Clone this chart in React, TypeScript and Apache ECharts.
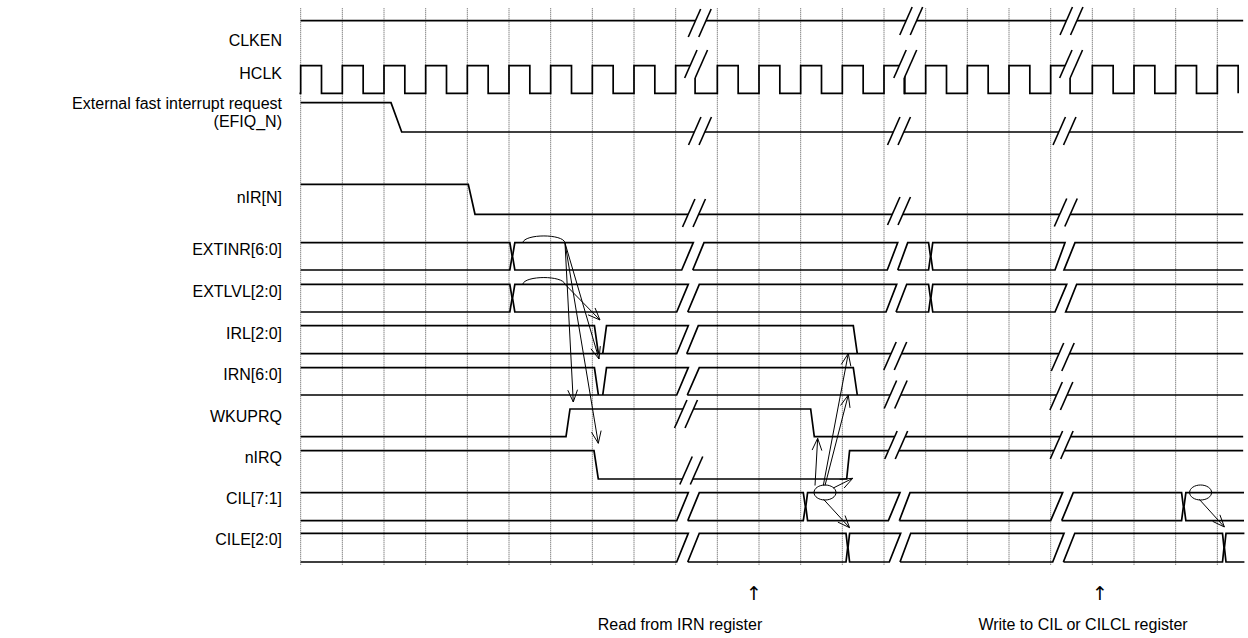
import React, { useEffect, useRef } from "react";
import * as echarts from "echarts";

// ---------------- axis (time in HCLK periods, t = 0 at first dotted line) ----------------
const T_MIN = -7.216;
const T_MAX = 22.736;
const Y_MAX = 638;
const gridTicks = [0, 1, 2, 3, 4, 5, 6, 7, 8, 9, 10, 11, 12, 13, 14, 15, 16, 17, 18, 19, 20, 21, 22];
const gridSpan = [8.3, 565];

// ---------------- lanes (layout: y of high / low level) ----------------
const lanes: Record<string, { hi: number; lo: number }> = {
  CLKEN: { hi: 20.7, lo: 48 },
  HCLK: { hi: 65.7, lo: 93.3 },
  EFIQ: { hi: 102.7, lo: 132 },
  NIR: { hi: 184.3, lo: 214.3 },
  EXTINR: { hi: 242.7, lo: 270 },
  EXTLVL: { hi: 284.3, lo: 312 },
  IRL: { hi: 325.7, lo: 353.7 },
  IRN: { hi: 367.7, lo: 395 },
  WKUPRQ: { hi: 409, lo: 436.7 },
  NIRQ: { hi: 450.7, lo: 479 },
  CIL: { hi: 492.7, lo: 520.7 },
  CILE: { hi: 533.3, lo: 562 },
};

// ---------------- signal names ----------------
const signalLabels = [
  "CLKEN",
  "HCLK",
  "External fast interrupt request\n(EFIQ_N)",
  "nIR[N]",
  "EXTINR[6:0]",
  "EXTLVL[2:0]",
  "IRL[2:0]",
  "IRN[6:0]",
  "WKUPRQ",
  "nIRQ",
  "CIL[7:1]",
  "CILE[2:0]",
];
const labelY = [40, 73, 112, 197, 249, 291, 333, 374, 416, 457, 498, 539];
const labelT = -0.448;

// ---------------- waveforms: [time, level] (1 = high/top, 0 = low/bottom) ----------------
const clkenWave = [[[0, 1], [22.62, 1]]];
const efiqWave = [[[0, 1], [2.168, 1], [2.425, 0], [22.62, 0]]];
const nirWave = [[[0, 1], [4.023, 1], [4.184, 0], [22.62, 0]]];
const extinrWave = [
  [[0, 1], [5.02, 1], [5.075, 0.5], [5.02, 0], [0, 0]],
  [[5.085, 0.5], [5.14, 1], [9.423, 1], [9.145, 0], [5.14, 0], [5.085, 0.5]],
  [[9.409, 0], [9.68, 1], [14.329, 1], [14.079, 0], [9.409, 0]],
  [[14.329, 0], [14.569, 1], [15.07, 1], [15.115, 0.5], [15.07, 0], [14.329, 0]],
  [[15.125, 0.5], [15.17, 1], [18.344, 1], [18.104, 0], [15.17, 0], [15.125, 0.5]],
  [[22.62, 1], [18.584, 1], [18.32, 0], [22.62, 0]],
];
const extlvlWave = [
  [[0, 1], [5.02, 1], [5.075, 0.5], [5.02, 0], [0, 0]],
  [[5.085, 0.5], [5.14, 1], [9.303, 1], [9.025, 0], [5.14, 0], [5.085, 0.5]],
  [[9.289, 0], [9.567, 1], [14.305, 1], [14.048, 0], [9.289, 0]],
  [[14.288, 0], [14.545, 1], [15.07, 1], [15.115, 0.5], [15.07, 0], [14.288, 0]],
  [[15.125, 0.5], [15.17, 1], [18.385, 1], [18.104, 0], [15.17, 0], [15.125, 0.5]],
  [[22.62, 1], [18.624, 1], [18.36, 0], [22.62, 0]],
];
const irlWave = [
  [[0, 1], [7.05, 1], [7.145, 0]],
  [[7.25, 0], [7.34, 1], [9.303, 1], [9.025, 0], [0, 0]],
  [[9.265, 0], [9.543, 1], [13.263, 1], [13.359, 0]],
  [[9.265, 0], [22.62, 0]],
];
const irnWave = [
  [[0, 1], [7.05, 1], [7.145, 0]],
  [[7.25, 0], [7.34, 1], [9.303, 1], [9.025, 0], [0, 0]],
  [[9.279, 0], [9.567, 1], [13.263, 1], [13.359, 0]],
  [[9.279, 0], [22.62, 0]],
];
const wkuprqWave = [[[0, 0], [6.368, 0], [6.464, 1], [12.24, 1], [12.327, 0], [22.62, 0]]];
const nirqWave = [[[0, 1], [7.04, 1], [7.143, 0], [13.104, 0], [13.174, 1], [22.62, 1]]];
const cilWave = [
  [[0, 1], [9.303, 1], [9.025, 0], [0, 0]],
  [[9.289, 0], [9.567, 1], [12.063, 1], [12.113, 0.5], [12.063, 0], [9.289, 0]],
  [[12.123, 0.5], [12.166, 1], [14.384, 1], [14.105, 0], [12.166, 0], [12.123, 0.5]],
  [[14.367, 0], [14.624, 1], [18.288, 1], [18.0, 0], [14.367, 0]],
  [[18.264, 0], [18.543, 1], [21.142, 1], [21.185, 0.5], [21.142, 0], [18.264, 0]],
  [[22.64, 1], [21.245, 1], [21.2, 0.5], [21.245, 0], [22.64, 0]],
];
const cileWave = [
  [[0, 1], [9.303, 1], [9.025, 0], [0, 0]],
  [[9.289, 0], [9.567, 1], [13.088, 1], [13.128, 0.5], [13.088, 0], [9.289, 0]],
  [[13.136, 0.5], [13.174, 1], [14.4, 1], [14.127, 0], [13.174, 0], [13.136, 0.5]],
  [[14.384, 0], [14.641, 1], [18.32, 1], [18.049, 0], [14.384, 0]],
  [[18.305, 0], [18.579, 1], [22.124, 1], [22.16, 0.5], [22.124, 0], [18.305, 0]],
  [[22.65, 1], [22.208, 1], [22.17, 0.5], [22.208, 0], [22.65, 0]],
];

// HCLK: rising edges per section between the breaks
const hclkSections = [
  { start: -0.03, startLevel: 0, rises: [0, 1, 2, 3, 4, 5, 6, 7, 8, 9], end: 9.49 },
  { start: 9.466, startLevel: 0.554, rises: [10, 11, 12, 13, 14], end: 14.51 },
  { start: 14.486, startLevel: 0.554, rises: [15, 16, 17, 18], end: 18.49 },
  { start: 18.466, startLevel: 0.554, rises: [19, 20, 21, 22], end: 22.5 },
];
const hclkHighTime = 0.5;

// break marks on single-line signals: [time, y]
const breakMarks = [
  [9.577, 23], [14.653, 21], [18.5, 21],
  [9.49, 64], [14.51, 64], [18.49, 64],
  [9.584, 131], [14.36, 131], [18.332, 131],
  [9.44, 213], [14.36, 211], [18.363, 212.5],
  [14.27, 356], [18.29, 357],
  [14.28, 394.5], [18.257, 396],
  [9.248, 414],
  [14.293, 445], [18.264, 445],
  [9.375, 470.5],
];

// causal arrows: [t1, y1, t2, y2] (head at the second point)
const arrows = [
  [6.344, 243, 6.543, 402],
  [6.344, 243, 7.16, 359],
  [6.344, 243, 7.143, 443.3],
  [6.344, 284.3, 7.184, 320],
  [12.344, 485.5, 12.408, 438.3],
  [12.584, 485.5, 13.143, 395],
  [12.543, 485.5, 13.143, 353.5],
  [12.783, 488, 13.249, 478.3],
  [12.549, 499.3, 13.174, 527.7],
  [21.566, 499.3, 22.169, 527],
];

// bumps over the bus (start t, end t, y)
const bumps = [
  [5.329, 6.344, 242.7],
  [5.329, 6.344, 284.3],
];

// ellipses marking the CIL change: [t, y]
const ellipses = [
  [12.584, 492.5],
  [21.598, 492.5],
];

const notes = [
  { t: 10.881, y: 593, text: "↑", arrow: true },
  { t: 9.105, y: 624, text: "Read from IRN register", arrow: false },
  { t: 19.184, y: 593, text: "↑", arrow: true },
  { t: 18.776, y: 624, text: "Write to CIL or CILCL register", arrow: false },
];

// ---------------- build polylines ----------------
type P = [number, number];
function toY(lane: { hi: number; lo: number }, polys: number[][][]): P[][] {
  return polys.map((poly) => poly.map(([t, v]) => [t, lane.lo + (lane.hi - lane.lo) * v] as P));
}
function buildHclk(): number[][][] {
  return hclkSections.map((s) => {
    const pts: number[][] = [[s.start, s.startLevel], [s.start, 0]];
    let low = true;
    for (const r of s.rises) {
      pts.push([r, 0], [r, 1]);
      const f = r + hclkHighTime;
      if (f <= s.end) {
        pts.push([f, 1], [f, 0]);
        low = true;
      } else {
        pts.push([s.end, 1]);
        low = false;
      }
    }
    if (low) pts.push([s.end, 0]);
    return pts;
  });
}

const allWaves: P[][] = [
  ...toY(lanes.CLKEN, clkenWave),
  ...toY(lanes.HCLK, buildHclk()),
  ...toY(lanes.EFIQ, efiqWave),
  ...toY(lanes.NIR, nirWave),
  ...toY(lanes.EXTINR, extinrWave),
  ...toY(lanes.EXTLVL, extlvlWave),
  ...toY(lanes.IRL, irlWave),
  ...toY(lanes.IRN, irnWave),
  ...toY(lanes.WKUPRQ, wkuprqWave),
  ...toY(lanes.NIRQ, nirqWave),
  ...toY(lanes.CIL, cilWave),
  ...toY(lanes.CILE, cileWave),
];

const FONT = '16px "Liberation Sans", Arial, Helvetica, sans-serif';
const ARROW_FONT = '19px "DejaVu Sans", sans-serif';
const INK = "#000";

export default function App() {
  const ref = useRef<HTMLDivElement>(null);
  useEffect(() => {
    if (!ref.current) return;
    const chart = echarts.init(ref.current, undefined, { renderer: "svg" });

    const option: any = {
      animation: false,
      backgroundColor: "#ffffff",
      grid: { left: 0, right: 0, top: 0, bottom: 0 },
      xAxis: { type: "value", min: T_MIN, max: T_MAX, show: false },
      yAxis: { type: "value", min: 0, max: Y_MAX, inverse: true, show: false },
      series: [
        {
          type: "custom",
          name: "grid",
          z: 1,
          silent: true,
          data: gridTicks.map((t) => [t, gridSpan[0]]),
          renderItem: (params: any, api: any) => {
            const t = gridTicks[params.dataIndex];
            const a = api.coord([t, gridSpan[0]]);
            const b = api.coord([t, gridSpan[1]]);
            return {
              type: "line",
              shape: { x1: a[0], y1: a[1], x2: b[0], y2: b[1] },
              style: { stroke: "#555", lineWidth: 1, lineDash: [1, 1] },
            };
          },
        },
        {
          type: "custom",
          name: "waves",
          z: 2,
          silent: true,
          data: allWaves.map((p) => p[0]),
          renderItem: (params: any, api: any) => {
            const pts = allWaves[params.dataIndex].map((p) => api.coord(p));
            return {
              type: "polyline",
              shape: { points: pts },
              style: { stroke: INK, lineWidth: 1.7, fill: null, lineJoin: "miter" },
            };
          },
        },
        {
          type: "custom",
          name: "breaks",
          z: 3,
          silent: true,
          data: breakMarks,
          renderItem: (params: any, api: any) => {
            const [cx, cy] = api.coord(breakMarks[params.dataIndex]);
            const h = 14, w = 6.2, d = 5.25;
            const s1 = [cx - d - w, cy + h, cx - d + w, cy - h];
            const s2 = [cx + d - w, cy + h, cx + d + w, cy - h];
            return {
              type: "group",
              children: [
                {
                  type: "polygon",
                  shape: { points: [[s1[0], s1[1]], [s1[2], s1[3]], [s2[2], s2[3]], [s2[0], s2[1]]] },
                  style: { fill: "#fff", stroke: null },
                },
                { type: "line", shape: { x1: s1[0], y1: s1[1], x2: s1[2], y2: s1[3] }, style: { stroke: INK, lineWidth: 1.6 } },
                { type: "line", shape: { x1: s2[0], y1: s2[1], x2: s2[2], y2: s2[3] }, style: { stroke: INK, lineWidth: 1.6 } },
              ],
            };
          },
        },
        {
          type: "custom",
          name: "arrows",
          z: 4,
          silent: true,
          data: arrows.map((a) => [a[0], a[1]]),
          renderItem: (params: any, api: any) => {
            const a = arrows[params.dataIndex];
            const p1 = api.coord([a[0], a[1]]);
            const p2 = api.coord([a[2], a[3]]);
            const ang = Math.atan2(p2[1] - p1[1], p2[0] - p1[0]);
            const L = 13, th = (22 * Math.PI) / 180;
            const w1 = [p2[0] - L * Math.cos(ang - th), p2[1] - L * Math.sin(ang - th)];
            const w2 = [p2[0] - L * Math.cos(ang + th), p2[1] - L * Math.sin(ang + th)];
            return {
              type: "group",
              children: [
                { type: "line", shape: { x1: p1[0], y1: p1[1], x2: p2[0], y2: p2[1] }, style: { stroke: INK, lineWidth: 1 } },
                { type: "polyline", shape: { points: [w1, p2, w2] }, style: { stroke: INK, lineWidth: 1, fill: null } },
              ],
            };
          },
        },
        {
          type: "custom",
          name: "bumps",
          z: 4,
          silent: true,
          data: bumps.map((b) => [b[0], b[2]]),
          renderItem: (params: any, api: any) => {
            const b = bumps[params.dataIndex];
            const p1 = api.coord([b[0], b[2]]);
            const p2 = api.coord([b[1], b[2]]);
            const hgt = 9;
            return {
              type: "bezierCurve",
              shape: {
                x1: p1[0], y1: p1[1], x2: p2[0], y2: p2[1],
                cpx1: p1[0] + 2, cpy1: p1[1] - hgt,
                cpx2: p2[0] - 2, cpy2: p2[1] - hgt,
              },
              style: { stroke: INK, lineWidth: 1, fill: null },
            };
          },
        },
        {
          type: "custom",
          name: "ellipses",
          z: 4,
          silent: true,
          data: ellipses,
          renderItem: (params: any, api: any) => {
            const c = api.coord(ellipses[params.dataIndex]);
            return {
              type: "ellipse",
              shape: { cx: c[0], cy: c[1], rx: 11, ry: 7.5 },
              style: { stroke: INK, lineWidth: 1, fill: "none" },
            };
          },
        },
        {
          type: "custom",
          name: "labels",
          z: 5,
          silent: true,
          data: labelY.map((y) => [labelT, y]),
          renderItem: (params: any, api: any) => {
            const c = api.coord([labelT, labelY[params.dataIndex]]);
            return {
              type: "text",
              x: c[0],
              y: c[1],
              style: {
                text: signalLabels[params.dataIndex],
                font: FONT,
                fill: INK,
                align: "right",
                verticalAlign: "middle",
                lineHeight: 18,
              },
            };
          },
        },
        {
          type: "custom",
          name: "notes",
          z: 5,
          silent: true,
          data: notes.map((n) => [n.t, n.y]),
          renderItem: (params: any, api: any) => {
            const n = notes[params.dataIndex];
            const c = api.coord([n.t, n.y]);
            return {
              type: "text",
              x: c[0],
              y: c[1],
              style: {
                text: n.text,
                font: n.arrow ? ARROW_FONT : FONT,
                fill: INK,
                align: "center",
                verticalAlign: "middle",
              },
            };
          },
        },
      ],
    };
    chart.setOption(option);
    return () => chart.dispose();
  }, []);

  return (
    <div
      ref={ref}
      style={{ position: "fixed", left: 0, top: 0, width: 1248, height: 638, background: "#fff" }}
    />
  );
}
